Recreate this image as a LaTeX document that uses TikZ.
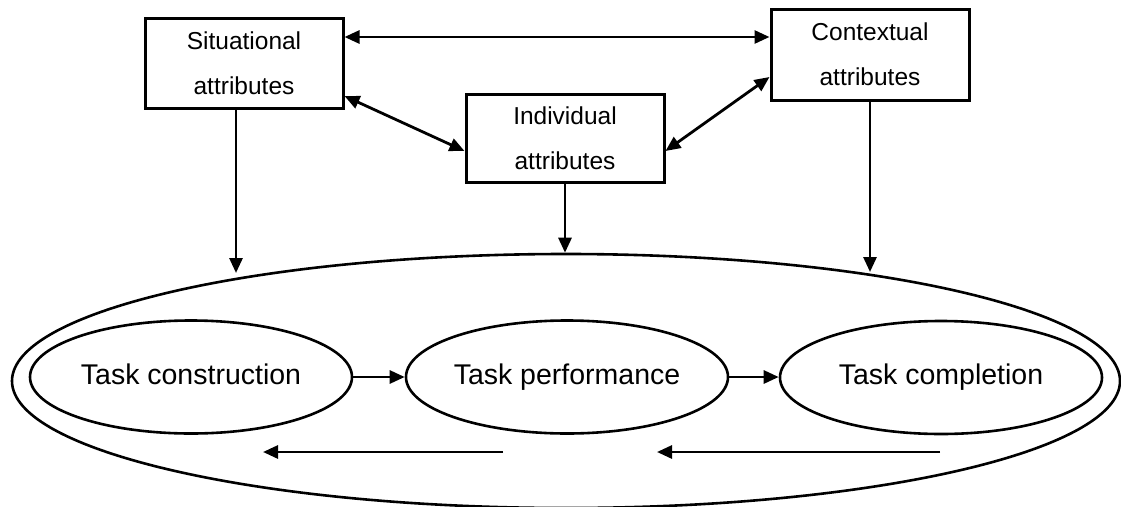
\documentclass[tikz,border=0pt]{standalone}
\usepackage{fontspec}
\setmainfont{Liberation Sans}
\usetikzlibrary{shapes.geometric,arrows.meta}
\begin{document}
\begin{tikzpicture}[x=1pt,y=-1pt,
  attrbox/.style={draw, line width=3pt, minimum width=198pt, minimum height=90pt,
    inner sep=0pt, align=center, font=\fontsize{24.5}{45}\selectfont},
  phase/.style={draw, ellipse, line width=2.6pt, minimum width=322pt, minimum height=113pt,
    inner sep=0pt, text height=20pt, text depth=6pt, font=\fontsize{28.5}{34}\selectfont},
  cycle/.style={draw, ellipse, line width=2.6pt, inner sep=0pt},
  link/.style={line width=2.8pt, -{Triangle[length=15pt,width=13pt]}},
  both/.style={line width=2.8pt, {Triangle[length=15pt,width=13pt]}-{Triangle[length=15pt,width=13pt]}}
]
\useasboundingbox (0,0) rectangle (1121,506);

% the enclosing task cycle
\node[cycle, minimum width=1108pt, minimum height=254pt] (outer) at (566,381) {};

% attribute boxes
\node[attrbox] (sit) at (244,63) {Situational\\attributes};
\node[attrbox, minimum height=88pt] (ind) at (565,138) {Individual\\attributes};
\node[attrbox, minimum height=91pt] (ctx) at (870,54.5) {Contextual\\attributes};

% task phases
\node[phase] (tc) at (191,377) {Task construction};
\node[phase] (tp) at (567,377) {Task performance};
\node[phase] (tf) at (941,377.5) {Task completion};

% links between attribute boxes
\draw[both] ([yshift=26pt]sit.east) -- ([yshift=17.5pt]ctx.west);
\draw[both] ([yshift=-33pt]sit.east) -- ([yshift=-13pt]ind.west);
\draw[both] ([yshift=-13pt]ind.east) -- ([yshift=-22.5pt]ctx.west);

% influences on the task cycle
\coordinate (sitin) at (236,273);
\coordinate (ctxin) at (870,272);
\draw[link] (sit.south -| sitin) -- (sitin);
\draw[link] (ind.south) -- (ind.south |- outer.north);
\draw[link] (ctx.south) -- (ctxin);

% forward flow between phases
\draw[link] (tc.east) -- (tc.east -| tp.west);
\draw[link] (tp.east) -- (tp.east -| tf.west);

% return flow along the bottom
\coordinate (r1s) at (940,452);
\coordinate (r1e) at (657,452);
\coordinate (r2s) at (503,452);
\coordinate (r2e) at (263,452);
\draw[link] (r1s) -- (r1e);
\draw[link] (r2s) -- (r2e);
\end{tikzpicture}
\end{document}
